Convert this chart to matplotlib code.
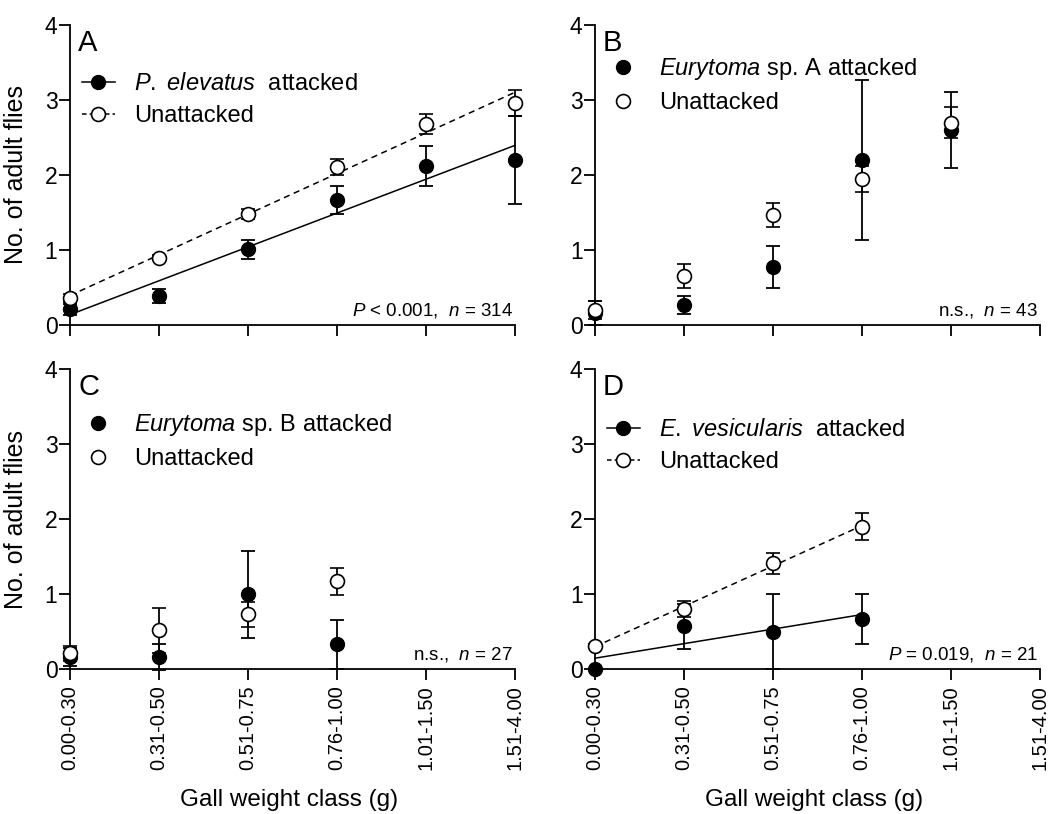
import numpy as np
import matplotlib
matplotlib.use("Agg")
import matplotlib.pyplot as plt
from matplotlib.lines import Line2D

plt.rcParams["font.family"] = ["Liberation Sans", "DejaVu Sans"]
plt.rcParams["mathtext.fontset"] = "custom"
plt.rcParams["mathtext.rm"] = "Liberation Sans"
plt.rcParams["mathtext.it"] = "Liberation Sans:italic"

# Gall weight classes (g)
weight_classes = ["0.00-0.30", "0.31-0.50", "0.51-0.75", "0.76-1.00", "1.01-1.50", "1.51-4.00"]

# Panel A: P. elevatus
a_att_mean = [0.21, 0.39, 1.01, 1.67, 2.12, 2.20]
a_att_err = [0.07, 0.09, 0.13, 0.19, 0.27, 0.59]
a_un_mean = [0.36, 0.90, 1.48, 2.11, 2.68, 2.96]
a_un_err = [0.05, 0.03, 0.07, 0.11, 0.13, 0.17]

# Panel B: Eurytoma sp. A
b_att_mean = [0.16, 0.27, 0.78, 2.20, 2.60]
b_att_err = [0.16, 0.12, 0.28, 1.07, 0.51]
b_un_mean = [0.20, 0.65, 1.47, 1.95, 2.70]
b_un_err = [0.12, 0.16, 0.16, 0.17, 0.21]

# Panel C: Eurytoma sp. B
c_att_mean = [0.16, 0.16, 1.00, 0.33]
c_att_err = [0.12, 0.17, 0.58, 0.33]
c_un_mean = [0.21, 0.52, 0.73, 1.17]
c_un_err = [0.10, 0.30, 0.17, 0.18]

# Panel D: E. vesicularis
d_att_mean = [0.00, 0.57, 0.50, 0.67]
d_att_err = [0.00, 0.30, 0.50, 0.33]
d_un_mean = [0.31, 0.80, 1.41, 1.90]
d_un_err = [0.03, 0.11, 0.14, 0.18]

panel_letters = ["A", "B", "C", "D"]
attacked_labels = [r"$\mathit{P.\ elevatus}$  attacked",
                   r"$\mathit{Eurytoma}$ sp. A attacked",
                   r"$\mathit{Eurytoma}$ sp. B attacked",
                   r"$\mathit{E.\ vesicularis}$  attacked"]
stats_labels = [r"$\mathit{P}$ < 0.001,  $\mathit{n}$ = 314",
                r"n.s.,  $\mathit{n}$ = 43",
                r"n.s.,  $\mathit{n}$ = 27",
                r"$\mathit{P}$ = 0.019,  $\mathit{n}$ = 21"]
with_fit = [True, False, False, True]

panels = [
    (a_att_mean, a_att_err, a_un_mean, a_un_err),
    (b_att_mean, b_att_err, b_un_mean, b_un_err),
    (c_att_mean, c_att_err, c_un_mean, c_un_err),
    (d_att_mean, d_att_err, d_un_mean, d_un_err),
]

W, H = 1059, 814
fig = plt.figure(figsize=(W / 100, H / 100), dpi=100)

# axes boxes in pixels: left, top, width, height
boxes = [(70, 25, 445, 300), (595, 25, 445, 300),
         (70, 369, 445, 300), (595, 369, 445, 300)]
legend_tops = [0.878, 0.935, 0.895, 0.872]

lw = 1.3
for i, (box, data) in enumerate(zip(boxes, panels)):
    l, t, w, h = box
    ax = fig.add_axes([l / W, 1 - (t + h) / H, w / W, h / H])
    att_m, att_e, un_m, un_e = data
    xa = np.arange(len(att_m))
    xu = np.arange(len(un_m))

    if with_fit[i]:
        xs = np.array([0, len(att_m) - 1])
        pa = np.polyfit(xa, att_m, 1)
        pu = np.polyfit(xu, un_m, 1)
        ax.plot(xs, np.polyval(pa, xs), color="black", lw=1.1, zorder=2, clip_on=False)
        ax.plot(xs, np.polyval(pu, xs), color="black", lw=1.1, ls=(0, (4, 3)), zorder=2,
                clip_on=False)

    eb1 = ax.errorbar(xa, att_m, yerr=att_e, fmt="o", color="black", mfc="black",
                      mec="black", ms=10, elinewidth=lw, capsize=5, capthick=lw,
                      zorder=3, clip_on=False)
    eb2 = ax.errorbar(xu, un_m, yerr=un_e, fmt="o", color="black", mfc="white",
                      mec="black", mew=1.2, ms=10, elinewidth=lw, capsize=5,
                      capthick=lw, zorder=4, clip_on=False)
    for eb in (eb1, eb2):
        for art in eb.lines[1] + eb.lines[2]:
            art.set_clip_on(False)

    ax.set_xlim(0, 5)
    ax.set_ylim(0, 4)
    ax.set_xticks(range(len(weight_classes)))
    ax.set_yticks([0, 1, 2, 3, 4])
    for s in ("top", "right"):
        ax.spines[s].set_visible(False)
    for s in ("left", "bottom"):
        ax.spines[s].set_linewidth(1.3)
    ax.tick_params(direction="out", length=8, width=1.3, labelsize=16.5, pad=1)

    if i >= 2:
        ax.set_xticklabels(weight_classes, rotation=90, fontsize=14.5)
        ax.tick_params(axis="x", pad=4)
        fig.text((l + w / 2 - 3) / W, 1 - 806 / H, "Gall weight class (g)",
                 fontsize=17.5, ha="center", va="baseline")
    else:
        ax.set_xticklabels([])
    if i % 2 == 0:
        ax.set_ylabel("No. of adult flies", fontsize=18, labelpad=12)

    ax.text(0.018, 0.94, panel_letters[i], transform=ax.transAxes, fontsize=21,
            ha="left", va="center")
    ax.text(0.995, 0.05, stats_labels[i], transform=ax.transAxes, fontsize=13.5,
            ha="right", va="center")

    if with_fit[i]:
        h1 = Line2D([], [], color="black", lw=1.1, marker="o", ms=10, mfc="black")
        h2 = Line2D([], [], color="black", lw=1.1, ls=(0, (3, 2)), marker="o", ms=10,
                    mfc="white", mew=1.2)
    else:
        h1 = Line2D([], [], ls="none", marker="o", ms=10, color="black", mfc="black")
        h2 = Line2D([], [], ls="none", marker="o", ms=10, color="black", mfc="white",
                    mew=1.2)
    ax.legend([h1, h2], [attacked_labels[i], "Unattacked"], loc="upper left",
              bbox_to_anchor=(0.0, legend_tops[i]), frameon=False, fontsize=17,
              handlelength=1.4, handletextpad=0.8, labelspacing=0.42,
              borderaxespad=0.3, borderpad=0.2)

fig.savefig("out.png", dpi=100)
